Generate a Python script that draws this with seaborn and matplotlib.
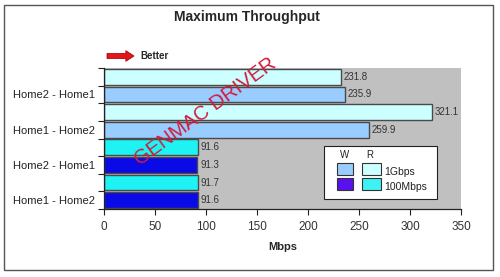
import matplotlib
matplotlib.use("Agg")
import matplotlib.pyplot as plt
from matplotlib.patches import Rectangle
import seaborn as sns
import pandas as pd

# Throughput per bar, top to bottom (R = read, W = write)
slots = ["H21 R 1G", "H21 W 1G", "H12 R 1G", "H12 W 1G",
         "H21 R 100M", "H21 W 100M", "H12 R 100M", "H12 W 100M"]
mbps = [231.8, 235.9, 321.1, 259.9, 91.6, 91.3, 91.7, 91.6]
bar_colors = ["#CCFFFF", "#99CCFF", "#CCFFFF", "#99CCFF",
              "#1EF2F2", "#0A0AE6", "#1EF2F2", "#0A0AE6"]
pair_labels = ["Home2 - Home1", "Home1 - Home2", "Home2 - Home1", "Home1 - Home2"]
pair_rows = [1, 3, 5, 7]
x_ticks = [0, 50, 100, 150, 200, 250, 300, 350]

legend_cols = ["W", "R"]
legend_rows = ["1Gbps", "100Mbps"]
legend_colors = [["#99CCFF", "#CCFFFF"], ["#5A10F0", "#3CF2F2"]]

sns.set_style("white")
plt.rcParams["font.family"] = ["Liberation Sans", "DejaVu Sans"]

W, H = 500, 277
fig = plt.figure(figsize=(5.0, 2.77), dpi=100)
fig.patch.set_facecolor("white")
ax = fig.add_axes([104.3 / W, 1 - 209 / H, (461 - 104.3) / W, (209 - 68) / H])
ax.set_facecolor("#C0C0C0")

df = pd.DataFrame({"slot": slots, "mbps": mbps})
sns.barplot(data=df, x="mbps", y="slot", hue="slot", palette=bar_colors,
            order=slots, hue_order=slots, orient="h", width=0.9,
            edgecolor="#4A4A4A", linewidth=1.0, saturation=1, legend=False, ax=ax)

for cont, v in zip(ax.containers, mbps):
    ax.bar_label(cont, labels=[f"{v}"], padding=2, fontsize=7, color="#333333")

ax.set_xlim(0, 350)
ax.set_ylim(7.5, -0.5)
ax.set_xticks(x_ticks)
ax.set_xticklabels([str(t) for t in x_ticks], fontsize=8.5, color="#333333")
ax.set_yticks([i - 0.5 for i in range(9)])
ax.set_yticklabels([])
ax.set_yticks(pair_rows, minor=True)
ax.set_yticklabels(pair_labels, minor=True, fontsize=8, color="#222222")
ax.tick_params(axis="y", which="minor", length=0, pad=6.5)
ax.tick_params(axis="y", which="major", direction="out", length=4, width=0.8,
               color="#222222", left=True)
ax.tick_params(axis="x", direction="out", length=4, width=0.8, color="#222222",
               bottom=True, pad=5)
ax.set_ylabel("")
ax.set_xlabel("Mbps", fontsize=8, fontweight="bold", labelpad=6)
for side in ["top", "right"]:
    ax.spines[side].set_visible(False)
for side in ["left", "bottom"]:
    ax.spines[side].set_color("#222222")
    ax.spines[side].set_linewidth(0.9)

# Title and direction hint
fig.text(247 / W, 1 - 17 / H, "Maximum Throughput", ha="center", va="center",
         fontsize=10, fontweight="bold")
ax.annotate("", xy=(134 / W, 1 - 56 / H), xytext=(107 / W, 1 - 56 / H),
            xycoords="figure fraction", textcoords="figure fraction",
            arrowprops=dict(arrowstyle="simple,head_width=0.55,head_length=0.42,tail_width=0.26",
                            mutation_scale=14, fc="#E8141B", ec="#8B0000", lw=0.5,
                            shrinkA=0, shrinkB=0))
fig.text(140 / W, 1 - 56 / H, "Better", ha="left", va="center",
         fontsize=7, fontweight="bold")

# Legend box: W/R columns by link speed rows
lx0, ly0, lx1, ly1 = 324, 146, 437, 199
fig.patches.append(Rectangle((lx0 / W, 1 - ly1 / H), (lx1 - lx0) / W, (ly1 - ly0) / H,
                             transform=fig.transFigure, fc="white", ec="#222222", lw=0.8))
col_x = [337, 362]
row_y = [163, 178]
for j, name in enumerate(legend_cols):
    fig.text((col_x[j] + 8) / W, 1 - 155.5 / H, name, ha="center", va="center",
             fontsize=7, color="#222222")
for i, name in enumerate(legend_rows):
    for j in range(2):
        fig.patches.append(Rectangle((col_x[j] / W, 1 - (row_y[i] + 12) / H),
                                     19 / W if j else 16 / W, 12 / H,
                                     transform=fig.transFigure,
                                     fc=legend_colors[i][j], ec="#333333", lw=0.8))
    fig.text(384 / W, 1 - (row_y[i] + 9) / H, name, ha="left", va="center",
             fontsize=7.5, color="#222222")

# Watermark
fig.text(205 / W, 1 - 112 / H, "GENMAC DRIVER", ha="center", va="center",
         rotation=36, rotation_mode="anchor", fontsize=14.5, color="#D41A3C")

# Outer chart frame
fig.patches.append(Rectangle((4 / W, 1 - 270 / H), 489 / W, 265 / H,
                             transform=fig.transFigure, fc="none", ec="#555555", lw=1.0))

fig.savefig("out.png", dpi=100)
